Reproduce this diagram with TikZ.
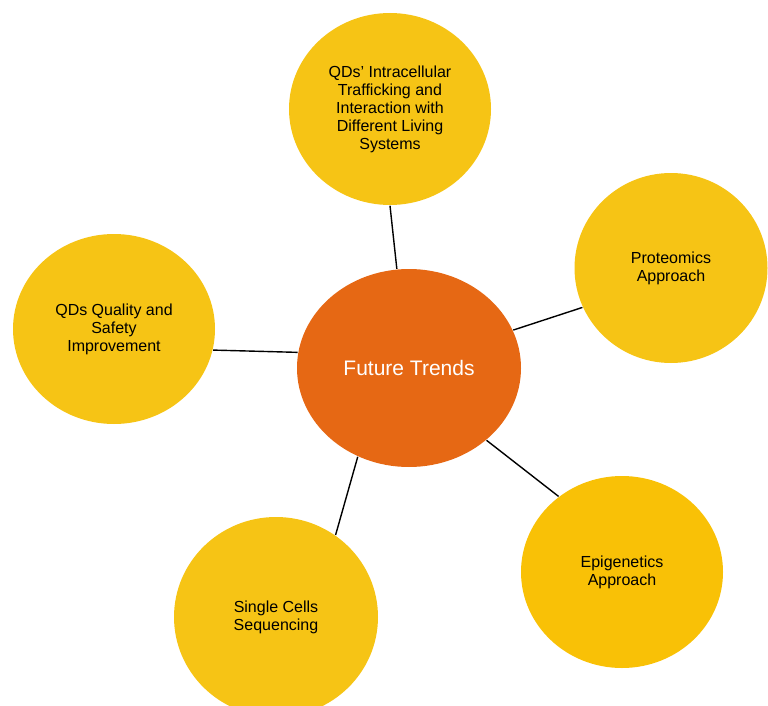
\documentclass[tikz,border=0pt]{standalone}
\usepackage{fontspec}
\setmainfont{Liberation Sans}
\usepackage{tikz}
\usetikzlibrary{shapes.geometric}
\definecolor{trendorange}{HTML}{E66814}
\definecolor{trendyellow}{HTML}{F6C415}
\definecolor{trendgold}{HTML}{F9C106}

\begin{document}
\begin{tikzpicture}[x=1pt,y=-1pt,line width=1.4pt,
  font=\fontsize{16}{18}\selectfont]
\tikzstyle{topic}=[ellipse,fill=trendyellow,text=black,align=center,inner sep=0pt]
\tikzstyle{hub}=[ellipse,fill=trendorange,text=white,inner sep=0pt,
  font=\fontsize{21}{24}\selectfont]
\useasboundingbox (0,0) rectangle (768,706);
\begin{scope}
\clip (0,0) rectangle (768,706);
\node[hub,minimum width=224pt,minimum height=198pt] (F) at (409,368) {Future Trends};
\node[topic,minimum width=202pt,minimum height=192pt] (T) at (390,109)
  {QDs' Intracellular\\Trafficking and\\Interaction with\\Different Living\\Systems};
\node[topic,minimum width=193pt,minimum height=190pt] (P) at (671,268) {Proteomics\\Approach};
\node[topic,minimum width=202pt,minimum height=190pt] (Q) at (114,329)
  {QDs Quality and\\Safety\\Improvement};
\node[topic,minimum width=204pt,minimum height=200pt] (S) at (276,617) {Single Cells\\Sequencing};
\node[topic,fill=trendgold,minimum width=202pt,minimum height=192pt] (E) at (622,572)
  {Epigenetics\\Approach};
\end{scope}
\path[draw=black]
  (T.270) -- (F.97)
  (F.20) -- (P.204)
  (Q.348) -- (F.172)
  (F.240) -- (S.54)
  (F.317) -- (E.130);
\end{tikzpicture}
\end{document}
